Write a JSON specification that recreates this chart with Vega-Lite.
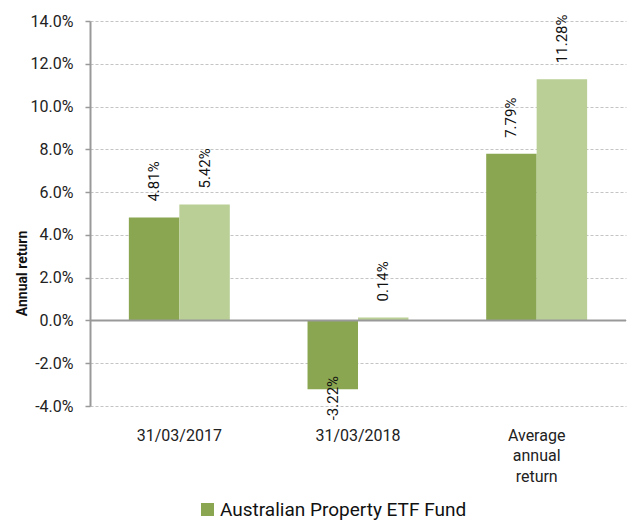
{
  "$schema": "https://vega.github.io/schema/vega-lite/v6.json",
  "width": 536,
  "height": 385,
  "autosize": "none",
  "padding": {"left": 90, "top": 21, "right": 2, "bottom": 115},
  "background": "white",
  "config": {
    "font": "Roboto",
    "locale": {"number": {"decimal": ".", "thousands": ",", "grouping": [3], "currency": ["$", ""], "minus": "-"}},
    "view": {"stroke": null},
    "axis": {"labelFont": "Roboto", "titleFont": "Roboto", "labelColor": "#222", "titleColor": "#111"}
  },
  "data": {
    "values": [
      {"period": "31/03/2017", "series": "Australian Property ETF Fund", "value": 0.0481},
      {"period": "31/03/2017", "series": "Benchmark Index", "value": 0.0542},
      {"period": "31/03/2018", "series": "Australian Property ETF Fund", "value": -0.0322},
      {"period": "31/03/2018", "series": "Benchmark Index", "value": 0.0014},
      {"period": "Average annual return", "series": "Australian Property ETF Fund", "value": 0.0779},
      {"period": "Average annual return", "series": "Benchmark Index", "value": 0.1128}
    ]
  },
  "encoding": {
    "x": {"field": "period", "type": "nominal", "sort": null,
      "scale": {"paddingInner": 0, "paddingOuter": 0}},
    "xOffset": {"field": "series", "type": "nominal", "sort": null,
      "scale": {"paddingInner": 0, "paddingOuter": 0.77}},
    "y": {"field": "value", "type": "quantitative",
      "scale": {"domain": [-0.04, 0.14], "nice": false, "zero": false}}
  },
  "layer": [
    {
      "mark": {"type": "bar"},
      "encoding": {
        "x": {"field": "period", "type": "nominal", "sort": null,
          "axis": {"title": null, "domain": false, "ticks": false, "labelPadding": 21, "labelAngle": 0,
            "labelFontSize": 16, "labelLineHeight": 20.5, "grid": false,
            "labelExpr": "split(datum.value, ' ')"}},
        "y": {"field": "value", "type": "quantitative",
          "axis": {"title": "Annual return", "format": ".1%", "values": [-0.04, -0.02, 0, 0.02, 0.04, 0.06, 0.08, 0.1, 0.12, 0.14],
            "labelExpr": "replace(datum.label, '−', '-')",
            "labelFontSize": 16, "labelPadding": 12, "tickSize": 5, "tickColor": "#999", "tickWidth": 1.5,
            "domainColor": "#999", "domainWidth": 2,
            "grid": true, "gridColor": "#c4c4c4", "gridDash": [3, 2], "gridWidth": 1,
            "titleFontSize": 14, "titleFontWeight": "bold", "titleAngle": 270, "titleX": -68, "titleY": 252,
            "titleAlign": "center", "titleBaseline": "middle"}},
        "color": {"field": "series", "type": "nominal", "sort": null,
          "scale": {"range": ["#8AA650", "#B9CF96"]},
          "legend": {"title": null, "values": ["Australian Property ETF Fund"], "orient": "none",
            "legendX": 108, "legendY": 479, "symbolType": "square", "symbolSize": 169,
            "symbolStrokeWidth": 0, "labelFontSize": 19, "labelColor": "#111", "labelOffset": 3, "labelLimit": 0, "labelFont": "Roboto"}}
      }
    },
    {
      "mark": {"type": "text", "angle": 270, "align": "left", "baseline": "middle", "dx": 16, "fontSize": 15, "color": "#111"},
      "transform": [{"filter": "datum.value >= 0"}],
      "encoding": {
        "text": {"field": "value", "type": "quantitative", "format": ".2%"}
      }
    },
    {
      "mark": {"type": "text", "angle": 270, "align": "left", "baseline": "middle", "dx": -31, "fontSize": 15, "color": "#111"},
      "transform": [{"filter": "datum.value < 0"}, {"calculate": "replace(format(datum.value, '.2%'), '−', '-')", "as": "label"}],
      "encoding": {
        "text": {"field": "label", "type": "nominal"}
      }
    },
    {
      "mark": {"type": "rule", "stroke": "#999", "strokeWidth": 2},
      "data": {"values": [{"zero": 0}]},
      "encoding": {
        "x": null,
        "xOffset": null,
        "y": {"field": "zero", "type": "quantitative"}
      }
    }
  ]
}
